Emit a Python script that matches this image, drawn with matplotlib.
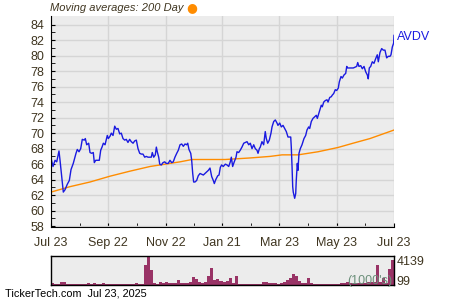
import matplotlib
matplotlib.use("Agg")
import matplotlib.pyplot as plt
import pandas as pd

# AVDV daily close (days since Jul 23 2024)
price_days = [0, 2.1, 4.3, 6.1, 8.5, 9.6, 11.4, 13.1, 14.9, 17.3, 19.5, 21.3, 23.7, 26.6, 28.0, 29.8,
              31.6, 33.3, 35.4, 36.5, 38.0, 40.1, 41.5, 43.3, 45.0, 46.1, 47.6, 51.4, 52.9, 54.3, 55.7,
              57.5, 59.9, 61.0, 62.8, 64.2, 66.0, 67.8, 69.5, 71.3, 73.1, 74.8, 76.6, 78.4, 80.1, 81.9,
              83.7, 85.4, 87.3, 89.1, 90.8, 92.6, 94.4, 96.1, 97.9, 99.7, 101.4, 103.2, 105.0, 106.7,
              107.8, 109.3, 111.0, 112.1, 113.1, 114.6, 115.7, 117.4, 119.2, 121.0, 122.7, 124.8, 126.6,
              128.4, 130.1, 131.9, 133.8, 135.5, 137.3, 139.1, 140.8, 142.6, 144.4, 145.5, 146.8, 148.7,
              149.7, 150.8, 151.8, 153.2, 155.0, 156.7, 158.6, 160.4, 162.1, 163.9, 165.7, 167.4, 169.2,
              171.0, 172.7, 173.8, 175.3, 177.4, 178.8, 180.2, 181.6, 183.3, 185.5, 187.3, 189.1, 190.8,
              191.9, 193.3, 195.0, 196.9, 197.9, 199.7, 201.4, 203.2, 205.1, 206.8, 208.6, 210.4, 212.1,
              213.9, 215.7, 217.4, 219.2, 220.3, 221.7, 222.7, 224.5, 226.3, 228.0, 229.1, 230.6, 232.3,
              234.1, 235.2, 237.0, 238.7, 240.5, 241.5, 243.4, 245.1, 246.9, 248.7, 250.4, 252.2, 255.1,
              255.7, 256.5, 257.2, 257.8, 259.3, 260.4, 261.0, 262.1, 262.8, 263.9, 265.3, 267.1, 269.2,
              271.0, 272.4, 274.2, 275.3, 277.0, 278.8, 280.6, 282.3, 283.4, 284.9, 286.2, 287.6, 288.7,
              290.2, 291.9, 293.7, 294.8, 296.6, 298.3, 299.3, 300.8, 302.5, 304.0, 305.7, 306.8, 308.6,
              310.0, 311.8, 313.6, 314.7, 315.7, 318.2, 321.7, 325.3, 326.4, 327.7, 329.6, 331.3, 333.1,
              334.9, 336.6, 337.6, 338.7, 340.2, 341.9, 343.7, 345.5, 347.2, 348.3, 350.1, 351.9, 353.6,
              355.4, 357.2, 358.9, 360.7, 361.8, 363.2, 364.6, 365]
price = [66.8, 65.7, 66.5, 66.3, 67.7, 66.5, 64.4, 62.4, 62.7, 63.4, 63.9, 65.3, 66.1, 67.4, 67.9, 67.6,
         68.0, 69.2, 69.1, 69.3, 68.5, 68.7, 67.5, 67.4, 67.5, 66.2, 66.5, 66.5, 67.8, 68.2, 68.7,
         68.5, 69.7, 69.3, 69.6, 70.0, 69.7, 70.9, 70.5, 70.6, 69.9, 70.0, 69.3, 69.1, 69.2, 68.8,
         69.2, 68.9, 68.7, 69.0, 69.1, 68.0, 67.4, 67.3, 67.3, 66.9, 67.0, 66.9, 66.9, 66.9,
         67.5, 66.9, 67.2, 68.2, 67.6, 66.9, 66.0, 65.9, 66.2, 66.3, 66.1, 66.1, 66.5,
         66.2, 66.3, 66.9, 67.4, 67.8, 68.5, 68.6, 68.3, 68.6, 68.5, 68.7, 67.9, 67.4,
         66.5, 64.8, 63.7, 63.7, 63.9, 64.5, 64.8, 64.7, 64.6, 64.8, 65.0, 65.2, 65.5,
         64.4, 63.9, 63.5, 64.0, 64.5, 64.6, 65.6, 65.9, 65.7, 66.0, 65.9, 65.7, 66.3,
         66.9, 65.7, 66.3, 66.9, 67.6, 67.5, 67.8, 68.2, 68.7, 68.8, 68.9, 68.5, 68.7,
         68.0, 68.5, 68.0, 67.8, 67.4, 68.0, 68.2, 68.9, 68.5, 70.2, 69.3, 68.7, 69.1,
         70.0, 70.8, 71.5, 71.7, 71.3, 71.0, 71.3, 70.8, 71.0, 70.6, 70.2, 69.5, 69.5,
         68.2, 65.7, 63.1, 62.4, 61.6, 62.2, 63.9, 66.1, 65.2, 67.4, 68.0, 68.5, 69.3,
         69.7, 70.4, 70.8, 70.6, 71.5, 71.9, 72.1, 72.3, 71.9, 72.5, 73.0, 73.6, 73.4,
         74.0, 74.2, 74.3, 74.0, 74.6, 74.7, 74.9, 75.1, 75.6, 75.5, 75.8, 76.6, 77.3,
         77.1, 77.5, 77.7, 78.6, 78.4, 78.4, 78.4, 78.6, 79.1, 78.6, 78.7, 78.3, 78.6,
         77.9, 77.5, 77.0, 78.4, 78.6, 79.2, 79.0, 79.6, 80.1, 79.2, 80.4, 80.9, 80.7,
         80.7, 79.7, 79.9, 79.9, 80.1, 81.1, 81.6, 82.6]

# 200 day moving average
ma_days = [0, 20.2, 41.5, 62.8, 84.1, 105.4, 121.4, 137.3, 150.1, 185.2, 211.8, 233.1, 245.9,
           262.9, 284.2, 305.4, 321.4, 339.4, 365]
ma200 = [62.4, 63.1, 63.7, 64.45, 65.1, 65.7, 66.0, 66.3, 66.6, 66.6, 66.8, 67.0, 67.2,
         67.2, 67.6, 68.15, 68.7, 69.3, 70.4]

# volume in 1000's, ~3.2 day buckets
volume = [245, 100, 200, 490, 390, 100, 100, 150, 100, 100,
          100, 100, 245, 150, 245, 100, 100, 245, 100, 100,
          100, 200, 100, 100, 200, 100, 100, 100, 245, 100,
          100, 3000, 4139, 2200, 250, 200, 490, 340, 390, 300,
          245, 300, 690, 300, 340, 340, 440, 1180, 830, 440,
          340, 440, 1270, 2450, 690, 830, 590, 490, 590, 1080,
          340, 1320, 200, 180, 180, 180, 200, 180, 180, 200,
          490, 390, 300, 250, 250, 200, 300, 440, 690, 980,
          1670, 1320, 590, 340, 250, 1080, 300, 200, 170, 170,
          170, 170, 170, 170, 170, 170, 250, 340, 490, 340,
          300, 340, 300, 340, 340, 390, 440, 390, 2900, 400,
          1080, 340, 2300, 3700]

tick_dates = ["2024-07-23", "2024-09-22", "2024-11-22", "2025-01-21", "2025-03-23", "2025-05-23", "2025-07-23"]
tick_labels = ["Jul 23", "Sep 22", "Nov 22", "Jan 21", "Mar 23", "May 23", "Jul 23"]

start = pd.Timestamp("2024-07-23")
end = pd.Timestamp("2025-07-23")
px = start + pd.to_timedelta(price_days, unit="D")
mx = start + pd.to_timedelta(ma_days, unit="D")
nb = len(volume)
step = 365 / nb
vx = start + pd.to_timedelta([(i + 0.5) * step for i in range(nb)], unit="D")
ticks = pd.to_datetime(tick_dates)
minor = ticks[:-1] + (ticks[1:] - ticks[:-1]) / 2

plt.rcParams["font.family"] = ["Liberation Sans", "DejaVu Sans"]
txt = "#3f3520"
bg = "#ececec"
grid = "#d5d5d5"

fig = plt.figure(figsize=(4.5, 3), dpi=100)
ax = fig.add_axes([51 / 450, 1 - 227 / 300, 343 / 450, 211 / 300])
ax.set_facecolor(bg)
ax.plot(mx, ma200, color="#ff8c00", lw=1)
ax.plot(px, price, color="#1a1ae0", lw=1)
ax.set_xlim(start, end)
ax.set_ylim(57.9, 85.1)
ax.set_yticks(range(58, 85, 2))
ax.set_yticks(range(59, 85, 2), minor=True)
ax.set_xticks(ticks)
ax.set_xticklabels(tick_labels)
ax.set_xticks(minor, minor=True)
ax.grid(True, which="major", color=grid, lw=1)
ax.set_axisbelow(True)
for s in ["top", "right"]:
    ax.spines[s].set_visible(False)
for s in ["left", "bottom"]:
    ax.spines[s].set_color("black")
ax.tick_params(which="both", direction="in", length=3, color="black", labelcolor=txt, labelsize=9)
ax.tick_params(axis="y", pad=5)
ax.tick_params(axis="x", pad=7)
ax.text(1.008, 0.9, "AVDV", transform=ax.transAxes, color="#1a1ae0", fontsize=9, va="center")

fig.text(50 / 450, 1 - 8 / 300, "Moving averages: 200 Day", fontsize=8, style="italic", color=txt, va="center")
fig.text(192 / 450, 1 - 8 / 300, "\u25CF", fontsize=9, color="#ff8c00", ha="center", va="center",
         family="DejaVu Sans")

vax = fig.add_axes([51 / 450, 1 - 285 / 300, 343 / 450, 29 / 300])
vax.set_facecolor(bg)
vax.bar(vx, volume, width=step, color="#993366", lw=0)
vax.set_xlim(start, end)
vax.set_ylim(0, 4300)
vax.set_xticks([])
vax.set_yticks([])
for s in vax.spines.values():
    s.set_color("black")
    s.set_linewidth(1)
vax.text(1.008, 0.78, "4139", transform=vax.transAxes, color=txt, fontsize=9, va="center")
vax.text(1.008, 0.12, "99", transform=vax.transAxes, color=txt, fontsize=9, va="center")
vax.text(0.995, 0.14, "(1000's)", transform=vax.transAxes, color="#6b8f7a", fontsize=9, ha="right", va="center")

fig.text(5 / 450, 1 - 294 / 300, "TickerTech.com  Jul 23, 2025", fontsize=7.8, color="black", va="center")

fig.savefig("out.png", dpi=100, facecolor="white")
